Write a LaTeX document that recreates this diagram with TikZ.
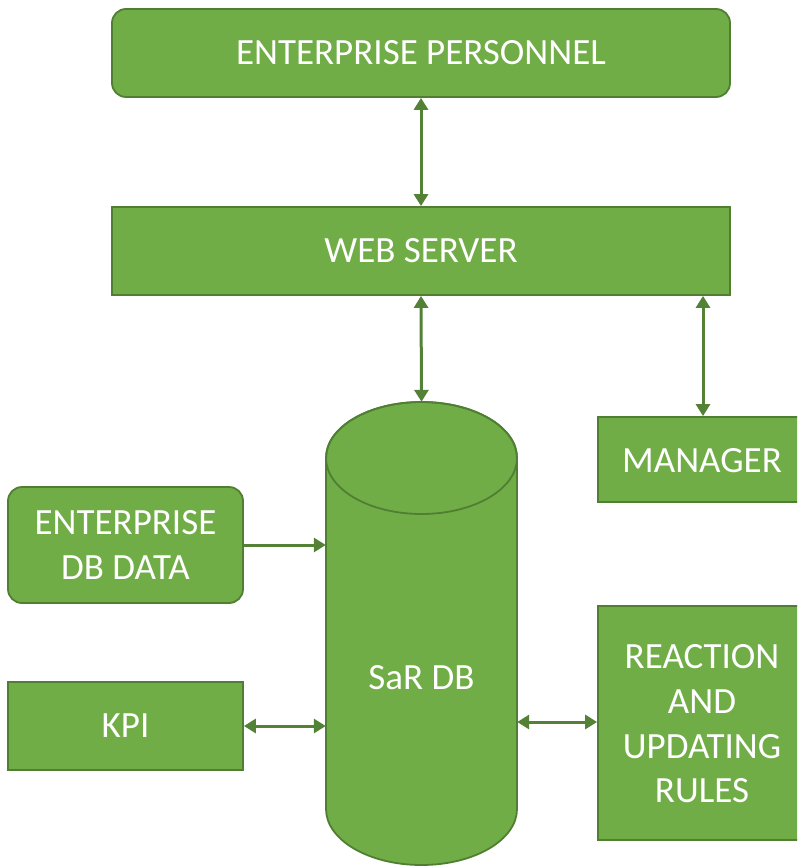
\documentclass[tikz,border=0pt]{standalone}
\usepackage{fontspec}
\setmainfont{Carlito}
\usetikzlibrary{arrows.meta}
\definecolor{boxfill}{HTML}{70AD47}
\definecolor{boxline}{HTML}{507E32}
\definecolor{arrowc}{HTML}{538135}
\begin{document}
\begin{tikzpicture}[x=1pt,y=-1pt,
  lbl/.style={text=white,font=\fontsize{37}{44.7}\selectfont,align=center},
  box/.style={draw=boxline,fill=boxfill,line width=1.8pt,lbl,inner sep=0pt,anchor=center},
  rbox/.style={box,rounded corners=14pt},
  link/.style={draw=arrowc,line width=3pt,{Triangle[length=12pt,width=14pt]}-{Triangle[length=12pt,width=14pt]}},
  onelink/.style={draw=arrowc,line width=3pt,-{Triangle[length=12pt,width=14pt]}}]
\useasboundingbox (0,0) rectangle (797,866);
\clip (0,0) rectangle (797,866);
\node[rbox,minimum width=618pt,minimum height=88pt] (ep) at (421,53) {ENTERPRISE PERSONNEL};
\node[box,minimum width=618pt,minimum height=88pt] (ws) at (421,251) {WEB SERVER};
\node[box,minimum width=204pt,minimum height=85pt] (mg) at (700,459.5) {};
\node[lbl] (mgl) at (702,461) {MANAGER};
\node[rbox,minimum width=235pt,minimum height=116pt] (edd) at (125.5,545) {ENTERPRISE\\DB DATA};
\node[box,minimum width=235pt,minimum height=88pt] (kpi) at (125.5,726) {KPI};
\node[box,minimum width=204pt,minimum height=234pt] (rr) at (700,723) {};
\node[lbl] (rrl) at (702,724) {REACTION\\AND\\UPDATING\\RULES};
% cylinder
\path[fill=boxfill,draw=boxline,line width=1.8pt]
  (326,458) -- (326,809) arc[start angle=180,end angle=360,x radius=95.5pt,y radius=56pt]
  -- (517,458) arc[start angle=0,end angle=180,x radius=95.5pt,y radius=56pt] -- cycle;
\draw[boxline,line width=1.8pt] (421.5,458) ellipse[x radius=95.5pt,y radius=56pt];
\node[minimum width=191pt,minimum height=463pt,inner sep=0pt] (db) at (421.5,633.5) {};
\node[lbl] (dbl) at (421.5,678) {SaR DB};
% connectors
\draw[link] (421,0 |- ep.south) -- (421,0 |- ws.north);
\draw[link] (421,0 |- ws.south) -- (db.north);
\draw[link] (703,0 |- ws.south) -- (703,0 |- mg.north);
\draw[onelink] (edd.east) -- (db.west |- edd.east);
\draw[link] (kpi.east) -- (db.west |- kpi.east);
\draw[link] (db.east |- 0,722) -- (rr.west |- 0,722);
\end{tikzpicture}
\end{document}
